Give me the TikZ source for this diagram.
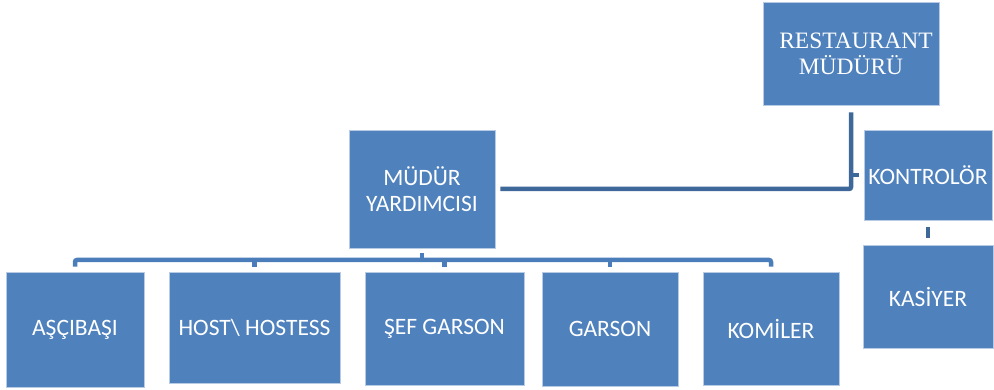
\documentclass[tikz,border=0pt]{standalone}
\usepackage{fontspec}
\setmainfont{Carlito}
\newfontfamily\serifrm{Liberation Serif}
\definecolor{boxblue}{HTML}{4F81BD}
\definecolor{boxedge}{HTML}{B7CBE4}
\definecolor{linedark}{HTML}{3E6899}
\definecolor{linebus}{HTML}{4A7DB9}
\begin{document}
\begin{tikzpicture}[x=1pt,y=1pt,
  orgbox/.style={draw=boxedge, line width=0.8pt, fill=boxblue, text=white, inner sep=0pt, align=center,
    font=\fontsize{23.5}{25.5}\selectfont},
  toplink/.style={draw=linedark, line width=4.5pt, rounded corners=2pt},
  buslink/.style={draw=linebus, line width=4.5pt, rounded corners=2pt}]
\useasboundingbox (0,0) rectangle (994,390);
% boxes
\node[orgbox, minimum width=176pt, minimum height=103pt, font=\serifrm\fontsize{23.5}{26}\selectfont] (RM) at (851,336.5) {\hspace*{10pt}RESTAURANT\\MÜDÜRÜ};
\node[orgbox, minimum width=128pt, minimum height=90pt] (KON) at (928,215) {KONTROLÖR};
\node[orgbox, minimum width=130pt, minimum height=103pt] (KAS) at (928,93.5) {KASİYER};
\node[orgbox, minimum width=146pt, minimum height=118pt] (MY) at (422,201) {MÜDÜR\\YARDIMCISI};
\node[orgbox, minimum width=138pt, minimum height=115pt] (ASC) at (75,60.5) {AŞÇIBAŞI};
\node[orgbox, minimum width=171pt, minimum height=111pt] (HOST) at (254.5,62.5) {HOST\textbackslash{} HOSTESS};
\node[orgbox, minimum width=159pt, minimum height=113pt] (SEF) at (444.5,61.5) {ŞEF GARSON};
\node[orgbox, minimum width=136pt, minimum height=114pt] (GAR) at (610,61) {GARSON};
\node[orgbox, minimum width=136pt, minimum height=113pt] (KOM) at (771,61.5) {KOMİLER};
% top connectors
\draw[toplink] ([yshift=-7pt]RM.south) |- ([xshift=5pt]MY.east);
\draw[toplink, rounded corners=0pt] ([xshift=-5pt]KON.west) -- (RM.south |- KON.west);
\draw[toplink, rounded corners=0pt] ([yshift=-7pt]KON.south) -- ([yshift=7pt]KAS.north);
% bottom bus
\coordinate (busy) at (0,130);
\draw[buslink, rounded corners=0pt] ([yshift=-5pt]MY.south) -- (MY.south |- busy);
\draw[buslink] ([yshift=5pt]ASC.north) -- (ASC.north |- busy) -- (KOM.north |- busy) -- ([yshift=5pt]KOM.north);
\draw[buslink, rounded corners=0pt] (HOST.north |- busy) -- ([yshift=5pt]HOST.north);
\draw[buslink, rounded corners=0pt] (SEF.north |- busy) -- ([yshift=5pt]SEF.north);
\draw[buslink, rounded corners=0pt] (GAR.north |- busy) -- ([yshift=5pt]GAR.north);
\end{tikzpicture}
\end{document}
